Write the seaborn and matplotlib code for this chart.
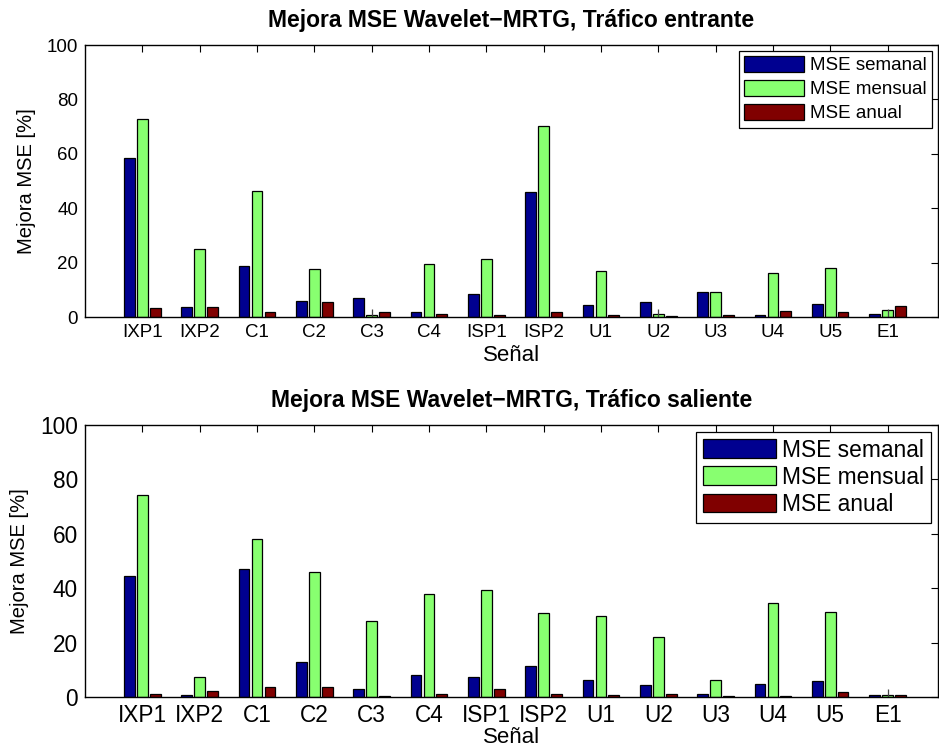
import numpy as np
import pandas as pd
import matplotlib
matplotlib.use("Agg")
import matplotlib.pyplot as plt
import seaborn as sns

# Signals and series
senales = ["IXP1", "IXP2", "C1", "C2", "C3", "C4", "ISP1", "ISP2",
           "U1", "U2", "U3", "U4", "U5", "E1"]
series = ["MSE semanal", "MSE mensual", "MSE anual"]

# Incoming traffic (%)
entrante_semanal = [58.4, 3.5, 18.7, 6.0, 7.0, 1.8, 8.4, 46.1, 4.4, 5.5, 9.2, 0.9, 4.9, 1.1]
entrante_mensual = [72.8, 25.1, 46.3, 17.7, 0.7, 19.6, 21.5, 70.4, 17.0, 1.1, 9.2, 16.2, 18.0, 2.4]
entrante_anual = [3.3, 3.5, 1.8, 5.4, 1.8, 1.1, 0.7, 2.0, 0.6, 0.3, 0.9, 2.3, 2.0, 3.9]

# Outgoing traffic (%)
saliente_semanal = [44.4, 0.9, 47.0, 13.0, 2.9, 8.2, 7.2, 11.3, 6.1, 4.4, 1.1, 4.7, 5.9, 0.9]
saliente_mensual = [74.2, 7.5, 58.0, 45.9, 27.9, 38.0, 39.3, 30.7, 29.6, 22.0, 6.4, 34.6, 31.4, 0.9]
saliente_anual = [1.2, 2.1, 3.6, 3.6, 0.2, 1.2, 2.9, 1.2, 0.9, 1.2, 0.2, 0.4, 2.0, 0.6]

# Spread whiskers on the monthly series (signal, upper end)
entrante_dispersion = {"C3": 3.0, "U2": 3.0, "E1": 3.1}
saliente_dispersion = {"E1": 2.8}

colores = ["#000090", "#88FF70", "#800000"]


def tabla(sem, men, anu):
    filas = []
    for vals, nombre in zip([sem, men, anu], series):
        for s, v in zip(senales, vals):
            filas.append({"Señal": s, "Serie": nombre, "Valor": v})
    return pd.DataFrame(filas)


def dibujar(ax, df, titulo, dispersion, fs_tick, fs_leg, title_pad,
            leg_spacing, xlab_pad):
    sns.barplot(data=df, x="Señal", y="Valor", hue="Serie", hue_order=series,
                palette=colores, width=0.675, gap=0.17, errorbar=None,
                edgecolor="black", linewidth=0.9, saturation=1, ax=ax)
    # whiskers on the middle (monthly) bars
    for s, top in dispersion.items():
        i = senales.index(s)
        ax.vlines(i, 0, top, color="#444444", lw=0.9, zorder=1)
    ax.set_xlim(-1, 13.88)
    ax.set_ylim(0, 100)
    ax.set_yticks(np.arange(0, 101, 20))
    ax.tick_params(direction="in", top=True, right=True, length=5,
                   width=0.8, labelsize=fs_tick, pad=5, colors="black")
    for sp in ax.spines.values():
        sp.set_visible(True)
        sp.set_color("black")
        sp.set_linewidth(1.0)
    ax.set_title(titulo, fontsize=16.5, fontweight="bold", pad=title_pad,
                 color="black")
    ax.set_xlabel("Señal", fontsize=16, labelpad=xlab_pad, color="black")
    ax.set_ylabel("Mejora MSE [%]", fontsize=14.5, labelpad=8, color="black")
    ax.grid(False)
    ax.set_facecolor("white")
    leg = ax.legend(loc="upper right", fontsize=fs_leg, frameon=True,
                    fancybox=False, framealpha=1, edgecolor="black",
                    handlelength=3.2, handleheight=0.9, handletextpad=0.3,
                    labelspacing=leg_spacing, borderpad=0.3, borderaxespad=0.3)
    leg.get_frame().set_linewidth(0.9)
    for t in leg.get_texts():
        t.set_color("black")


sns.set_style("white")
plt.rcParams["font.family"] = ["Liberation Sans", "DejaVu Sans"]
plt.rcParams["text.color"] = "black"
plt.rcParams["axes.labelcolor"] = "black"
plt.rcParams["xtick.color"] = "black"
plt.rcParams["ytick.color"] = "black"

fig = plt.figure(figsize=(9.39, 7.49), dpi=100)
ax1 = fig.add_axes([85 / 939, 1 - 317 / 749, 853 / 939, 272 / 749])
ax2 = fig.add_axes([85 / 939, 1 - 697 / 749, 853 / 939, 272 / 749])

dibujar(ax1, tabla(entrante_semanal, entrante_mensual, entrante_anual),
        "Mejora MSE Wavelet\u2212MRTG, Tráfico entrante",
        entrante_dispersion, 13.5, 13.5, 13, 0.3, 3)
dibujar(ax2, tabla(saliente_semanal, saliente_mensual, saliente_anual),
        "Mejora MSE Wavelet\u2212MRTG, Tráfico saliente",
        saliente_dispersion, 16.3, 16.4, 13, 0.18, 0)

fig.savefig("out.png", dpi=100, facecolor="white")
